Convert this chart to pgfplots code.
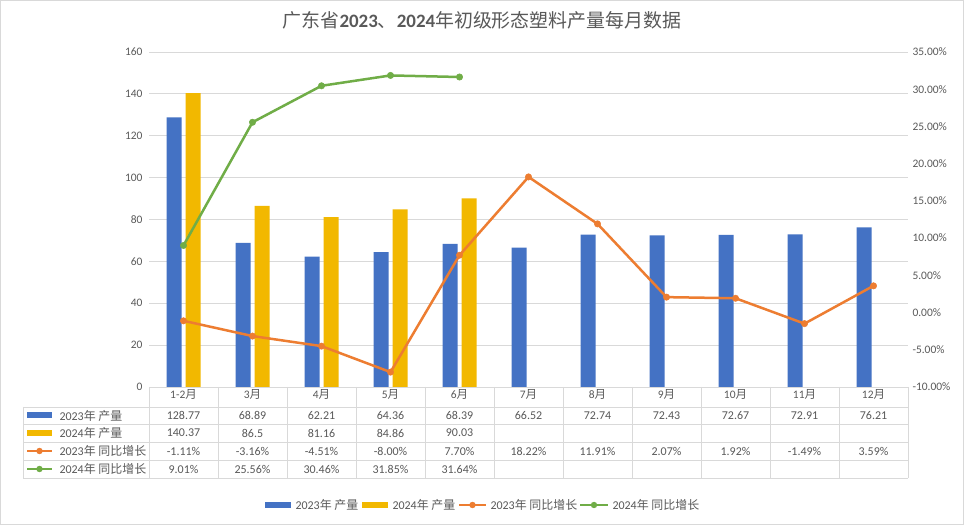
\documentclass[border=0pt]{standalone}
\usepackage{pgfplots}
\pgfplotsset{compat=1.18}
\usepackage{fontspec}
\setmainfont{Carlito}
\newfontfamily\cjk{Noto Sans CJK SC}
\definecolor{cblue}{HTML}{4472C4}
\definecolor{cgold}{HTML}{F2B800}
\definecolor{corange}{HTML}{ED7D31}
\definecolor{cgreen}{HTML}{70AD47}
\definecolor{txt}{HTML}{595959}
\definecolor{gridc}{HTML}{D9D9D9}
\begin{document}
\begin{tikzpicture}[x=1bp,y=1bp]
\fill[white] (0,0) rectangle (964,525);
\draw[gridc, line width=1bp] (0.5,0.5) rectangle (963.5,524.5);
\node[text=txt, font=\fontsize{19}{21}\selectfont] at (482,505) {{\cjk 广东省}\textbf{2023}{\cjk 、}\textbf{2024}{\cjk 年初级形态塑料产量每月数据}};
\begin{axis}[
  at={(149bp,138bp)}, anchor=south west,
  scale only axis, width=759bp, height=335bp,
  xmin=0, xmax=11, ymin=0, ymax=160,
  ytick={0,20,...,160},
  xtick={0.5,1.5,...,10.5},
  xticklabels={1-2{\cjk 月},3{\cjk 月},4{\cjk 月},5{\cjk 月},6{\cjk 月},7{\cjk 月},8{\cjk 月},9{\cjk 月},10{\cjk 月},11{\cjk 月},12{\cjk 月}},
  ymajorgrids, grid style={gridc, line width=0.8bp},
  axis line style={draw=none},
  major tick length=0,
  tick label style={font=\fontsize{11.5}{13}\selectfont, text=txt},
  /pgf/number format/assume math mode=true,
  yticklabel style={xshift=-3bp},
  xticklabel style={yshift=1bp},
  clip=false,
]
\addplot[ybar, bar width=15bp, bar shift=-9.5bp, fill=cblue, draw=none] coordinates {
(0.5,128.77) (1.5,68.89) (2.5,62.21) (3.5,64.36) (4.5,68.39) (5.5,66.52)
(6.5,72.74) (7.5,72.43) (8.5,72.67) (9.5,72.91) (10.5,76.21)};
\addplot[ybar, bar width=15bp, bar shift=9.5bp, fill=cgold, draw=none] coordinates {
(0.5,140.37) (1.5,86.5) (2.5,81.16) (3.5,84.86) (4.5,90.03)};
\end{axis}
\begin{axis}[
  at={(149bp,138bp)}, anchor=south west,
  scale only axis, width=759bp, height=335bp,
  xmin=0, xmax=11, ymin=-10, ymax=35,
  axis y line*=right, hide x axis, axis line style={draw=none},
  ytick={-10,-5,...,35},
  major tick length=0,
  yticklabel={\pgfmathprintnumber[fixed,fixed zerofill,precision=2]{\tick}\%},
  tick label style={font=\fontsize{11.5}{13}\selectfont, text=txt},
  /pgf/number format/assume math mode=true,
  yticklabel style={xshift=1bp},
  clip=false,
]
\addplot[corange, line width=2.5bp, mark=*, mark size=3.2bp, mark options={fill=corange, draw=corange, line width=0.5bp}] coordinates {
(0.5,-1.11) (1.5,-3.16) (2.5,-4.51) (3.5,-8.00) (4.5,7.70) (5.5,18.22)
(6.5,11.91) (7.5,2.07) (8.5,1.92) (9.5,-1.49) (10.5,3.59)};
\addplot[cgreen, line width=2.5bp, mark=*, mark size=3.2bp, mark options={fill=cgreen, draw=cgreen, line width=0.5bp}] coordinates {
(0.5,9.01) (1.5,25.56) (2.5,30.46) (3.5,31.85) (4.5,31.64)};
\end{axis}
% data table
\begin{scope}[gridc, line width=0.8bp]
\foreach \yy in {118,101,83,65,47} \draw (23,\yy) -- (908,\yy);
\draw (23,118) -- (23,47);
\foreach \k in {0,...,11} \draw ({149+69*\k},138) -- ({149+69*\k},47);
\draw (149,138) -- (908,138);
\end{scope}
\begin{scope}[every node/.style={font=\fontsize{12}{14}\selectfont, text=txt}]
\foreach \v [count=\i from 0] in {128.77,68.89,62.21,64.36,68.39,66.52,72.74,72.43,72.67,72.91,76.21}
  \node at ({149+69*(\i+0.5)},109.5) {\v};
\foreach \v [count=\i from 0] in {140.37,86.5,81.16,84.86,90.03}
  \node at ({149+69*(\i+0.5)},92) {\v};
\foreach \v [count=\i from 0] in {-1.11,-3.16,-4.51,-8.00,7.70,18.22,11.91,2.07,1.92,-1.49,3.59}
  \node at ({149+69*(\i+0.5)},74) {\v\%};
\foreach \v [count=\i from 0] in {9.01,25.56,30.46,31.85,31.64}
  \node at ({149+69*(\i+0.5)},56) {\v\%};
% row keys
\fill[cblue] (27,106.5) rectangle (52,112.5);
\node[anchor=west] at (56,109.5) {2023{\cjk 年 产量}};
\fill[cgold] (27,89) rectangle (52,95);
\node[anchor=west] at (56,92) {2024{\cjk 年 产量}};
\draw[corange, line width=2.5bp] (27,74) -- (52,74);
\fill[corange] (39.5,74) circle (3.2);
\node[anchor=west] at (56,74) {2023{\cjk 年 同比增长}};
\draw[cgreen, line width=2.5bp] (27,56) -- (52,56);
\fill[cgreen] (39.5,56) circle (3.2);
\node[anchor=west] at (56,56) {2024{\cjk 年 同比增长}};
% bottom legend
\fill[cblue] (265,17) rectangle (291,23);
\node[anchor=west] at (292,20) {2023{\cjk 年 产量}};
\fill[cgold] (362,17) rectangle (388,23);
\node[anchor=west] at (389,20) {2024{\cjk 年 产量}};
\draw[corange, line width=2.5bp] (459,20) -- (486,20);
\fill[corange] (472.5,20) circle (3.2);
\node[anchor=west] at (487,20) {2023{\cjk 年 同比增长}};
\draw[cgreen, line width=2.5bp] (580,20) -- (608,20);
\fill[cgreen] (594,20) circle (3.2);
\node[anchor=west] at (609,20) {2024{\cjk 年 同比增长}};
\end{scope}
\end{tikzpicture}
\end{document}
